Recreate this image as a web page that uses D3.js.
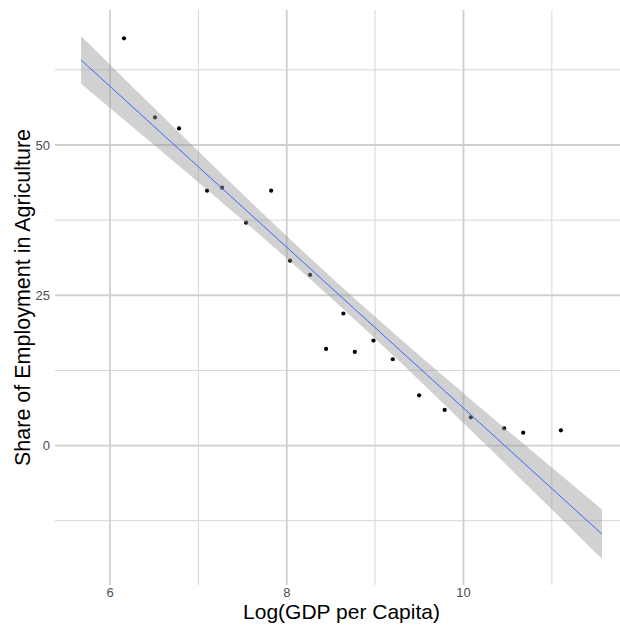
<!DOCTYPE html>
<html><head><meta charset="utf-8">
<script src="https://cdn.jsdelivr.net/npm/d3@7"></script>
<style>body{margin:0;background:#fff}svg{display:block}</style>
</head><body>
<svg id="c" width="620" height="628"></svg>
<script>
const logGdp = [6.158,6.509,6.781,7.098,7.268,7.540,7.823,8.038,8.264,8.641,8.445,8.770,8.981,9.200,9.498,9.787,10.083,10.460,10.676,11.102];
const agriShare = [67.75,54.58,52.75,42.40,42.90,37.08,42.40,30.75,28.40,21.97,16.08,15.58,17.47,14.36,8.36,5.92,4.69,2.86,2.14,2.53];
const fitRange = [5.672, 11.567];
const bandHalfLeft = 3.97;   // half-width of the confidence band at the left end
const xMajor = [6, 8, 10];
const xMinor = [7, 9, 11];
const yMajor = [0, 25, 50];
const yMinor = [-12.5, 12.5, 37.5, 62.5];

// Linear fit; band shape from the standard error of the fit, scaled to the picture
const n = logGdp.length;
const mx = d3.mean(logGdp), my = d3.mean(agriShare);
let sxx = 0, sxy = 0;
for (let i = 0; i < n; i++) { sxx += (logGdp[i]-mx)**2; sxy += (logGdp[i]-mx)*(agriShare[i]-my); }
const b = sxy/sxx, a = my - b*mx;
const shape = xv => Math.sqrt(1/n + (xv-mx)**2/sxx);
const k = bandHalfLeft / shape(fitRange[0]);
const fit = d3.range(0, 81).map(j => {
  const xv = fitRange[0] + (fitRange[1]-fitRange[0])*j/80;
  const yh = a + b*xv;
  const h = k*shape(xv);
  return {x: xv, y: yh, lo: yh - h, hi: yh + h};
});

const yMin = Math.min(d3.min(fit, d => d.lo), d3.min(agriShare));
const yMax = Math.max(d3.max(fit, d => d.hi), d3.max(agriShare));
const xPad = (fitRange[1]-fitRange[0])*0.05, yPad = (yMax-yMin)*0.05;

const L = 55, R = 628, T = 10, B = 585;
const x = d3.scaleLinear().domain([fitRange[0]-xPad, fitRange[1]+xPad]).range([L, R]);
const y = d3.scaleLinear().domain([yMin-yPad, yMax+yPad]).range([B, T]);

const svg = d3.select('#c');
const grid = svg.append('g');
grid.selectAll('.hm').data(yMinor).join('line')
  .attr('x1', L).attr('x2', R).attr('y1', d => y(d)).attr('y2', d => y(d))
  .attr('stroke', '#d6d6d6').attr('stroke-width', 1);
grid.selectAll('.vm').data(xMinor).join('line')
  .attr('y1', T).attr('y2', B).attr('x1', d => x(d)).attr('x2', d => x(d))
  .attr('stroke', '#d6d6d6').attr('stroke-width', 1);
grid.selectAll('.hM').data(yMajor).join('line')
  .attr('x1', L).attr('x2', R).attr('y1', d => y(d)).attr('y2', d => y(d))
  .attr('stroke', '#cfcfcf').attr('stroke-width', 1.8);
grid.selectAll('.vM').data(xMajor).join('line')
  .attr('y1', T).attr('y2', B).attr('x1', d => x(d)).attr('x2', d => x(d))
  .attr('stroke', '#cfcfcf').attr('stroke-width', 1.8);

svg.append('g').selectAll('circle').data(logGdp).join('circle')
  .attr('cx', d => x(d)).attr('cy', (d, i) => y(agriShare[i])).attr('r', 2.1).attr('fill', '#000');

svg.append('path').datum(fit)
  .attr('d', d3.area().x(d => x(d.x)).y0(d => y(d.lo)).y1(d => y(d.hi)))
  .attr('fill', '#999999').attr('fill-opacity', 0.45);
svg.append('path').datum(fit)
  .attr('d', d3.line().x(d => x(d.x)).y(d => y(d.y)))
  .attr('fill', 'none').attr('stroke', '#3366FF').attr('stroke-width', 1);

const font = '"Liberation Sans", Arial, sans-serif';
svg.append('g').selectAll('text').data(yMajor).join('text')
  .attr('x', 50).attr('y', d => y(d)).attr('dy', '0.36em').attr('text-anchor', 'end')
  .attr('font-family', font).attr('font-size', 13).attr('fill', '#4d4d4d').text(d => d);
svg.append('g').selectAll('text').data(xMajor).join('text')
  .attr('x', d => x(d)).attr('y', 597).attr('text-anchor', 'middle')
  .attr('font-family', font).attr('font-size', 13).attr('fill', '#4d4d4d').text(d => d);

svg.append('text').attr('x', (L+R)/2).attr('y', 619).attr('text-anchor', 'middle')
  .attr('font-family', font).attr('font-size', 21).attr('fill', '#000').text('Log(GDP per Capita)');
svg.append('text').attr('transform', `translate(30,${(T+B)/2}) rotate(-90)`).attr('text-anchor', 'middle')
  .attr('font-family', font).attr('font-size', 21.5).attr('fill', '#000').text('Share of Employment in Agriculture');
</script>
</body></html>
